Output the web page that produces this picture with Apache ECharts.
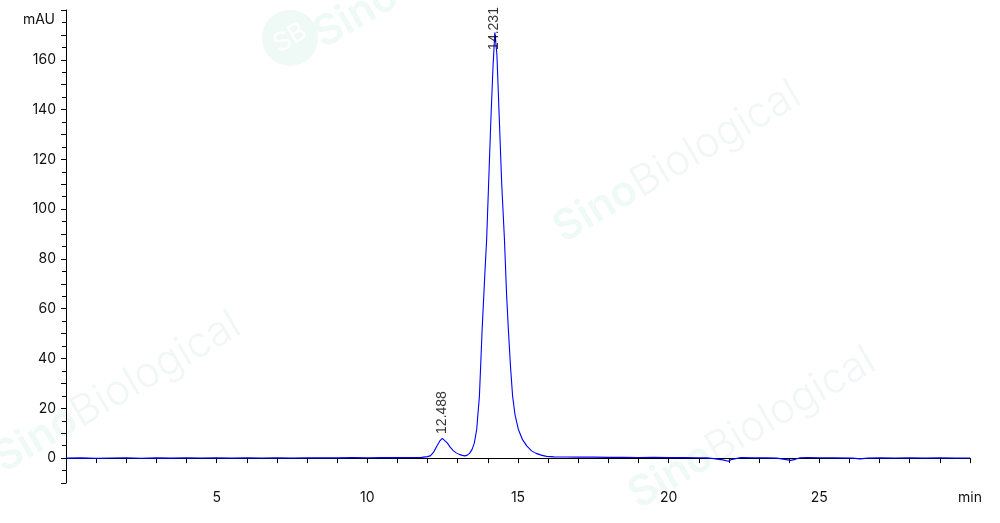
<!DOCTYPE html>
<html>
<head>
<meta charset="utf-8">
<script src="https://cdn.jsdelivr.net/npm/echarts@6/dist/echarts.min.js"></script>
<style>
html,body{margin:0;padding:0;background:#fff;}
#chart{width:1000px;height:523px;}
</style>
</head>
<body>
<div id="chart"></div>
<script>
// Retention time (min)
const times = [0,0.5,1,1.5,2,2.5,3,3.5,4,4.5,5,5.5,6,6.5,7,7.5,8,8.5,9,9.5,10,10.5,11,11.5,11.8,12.0,12.1,12.2,12.3,12.4,12.488,12.55,12.65,12.75,12.85,12.95,13.05,13.15,13.24,13.32,13.40,13.48,13.55,13.63,13.72,13.81,13.90,13.96,14.03,14.10,14.17,14.231,14.30,14.38,14.46,14.55,14.62,14.68,14.75,14.82,14.90,15.01,15.15,15.29,15.45,15.6,15.8,15.95,16.2,16.6,17,17.5,18,18.5,19,19.5,20,20.5,21,21.26,21.5,21.8,21.98,22.1,22.15,22.4,22.8,23.2,23.59,23.8,24.05,24.2,24.36,24.6,25,25.5,26.1,26.35,26.6,27,27.5,28,28.5,29,29.5,30];
// Absorbance (mAU)
const absorbance = [0.0,0.1,-0.1,0.05,0.1,-0.05,0.1,0.0,0.15,0.05,0.1,0.0,0.1,0.05,0.15,0.05,0.1,0.15,0.1,0.2,0.15,0.2,0.2,0.25,0.3,0.6,1.0,2.4,4.7,6.8,7.9,7.6,6.1,4.4,3.0,2.1,1.5,1.1,0.9,1.2,2.0,3.6,6.0,11.6,25,51.7,74,88,112,136,157,171,162,136,110,88,66,51.7,37,25,17.5,11.6,7.4,4.9,2.9,1.9,1.1,0.7,0.5,0.45,0.4,0.4,0.3,0.3,0.25,0.3,0.2,0.25,0.15,0.1,-0.2,-0.7,-1.3,-0.5,0.1,0.2,0.15,0.1,0.0,-0.4,-0.9,-0.5,0.15,0.2,0.15,0.1,0.0,-0.3,0.0,0.1,0.05,0.1,0.05,0.1,0.05,0.05];
// Peak annotations
const peakTimes = [12.488, 14.231];
const peakHeights = [7.9, 171];
const peakLabels = ['12.488', '14.231'];
const peakLabelShift = [-4, 18];

const chart = echarts.init(document.getElementById('chart'), null, {renderer: 'canvas'});

const lineData = times.map((t, i) => [t, absorbance[i]]);
const peakData = peakTimes.map((t, i) => ({
  value: [t, peakHeights[i]],
  label: {position: [0, peakLabelShift[i]]}
}));

const wmText = (x, y, size) => ({
  type: 'text',
  x: x, y: y,
  rotation: 0.53,
  z: -10,
  silent: true,
  style: {
    text: '{a|Sino}{b|Biological}',
    rich: {
      a: {fontFamily: 'Inter', fontSize: size, fontWeight: 600, fill: '#effaf7'},
      b: {fontFamily: 'Inter', fontSize: size, fontWeight: 300, fill: '#f1f7f6'}
    },
    align: 'center',
    verticalAlign: 'middle'
  }
});

const option = {
  animation: false,
  backgroundColor: '#ffffff',
  grid: {left: 66, right: 30, top: 10, bottom: 40, containLabel: false},
  graphic: [
    wmText(677, 162, 42),
    wmText(117, 392, 42),
    wmText(752, 428, 42),
    {
      type: 'circle', z: -10, silent: true,
      shape: {cx: 290, cy: 38, r: 28},
      style: {fill: '#eff9f6'}
    },
    {
      type: 'text', z: -10, silent: true,
      x: 290, y: 38, rotation: 0.53,
      style: {text: 'SB', fontFamily: 'Inter', fontSize: 26, fill: '#ffffff', align: 'center', verticalAlign: 'middle'}
    },
    {
      type: 'text', z: -10, silent: true,
      x: 328, y: 56, rotation: 0.53,
      style: {text: 'Sino', fontFamily: 'Inter', fontSize: 42, fontWeight: 600, fill: '#effaf7', align: 'left', verticalAlign: 'bottom'}
    }
  ],
  xAxis: {
    type: 'value',
    min: 0, max: 30, interval: 1,
    axisLine: {show: true, lineStyle: {color: '#000', width: 1}},
    axisTick: {show: true, length: 5, lineStyle: {color: '#000'}},
    splitLine: {show: false},
    axisLabel: {
      color: '#111', fontFamily: 'Inter', fontSize: 14, margin: 8,
      showMinLabel: true, showMaxLabel: true,
      formatter: v => (v === 30 ? 'min' : (v > 0 && v % 5 === 0 ? String(v) : ''))
    }
  },
  yAxis: {
    type: 'value',
    min: -10, max: 180, interval: 10,
    axisLine: {show: true, lineStyle: {color: '#000', width: 1}},
    axisTick: {show: true, length: 5, lineStyle: {color: '#000'}},
    minorTick: {show: true, splitNumber: 2, length: 4, lineStyle: {color: '#000'}},
    splitLine: {show: false},
    name: 'mAU',
    nameLocation: 'end',
    nameGap: -3,
    nameTextStyle: {color: '#111', fontFamily: 'Inter', fontSize: 14, align: 'right', verticalAlign: 'top', padding: [0, 11, 0, 0]},
    axisLabel: {
      color: '#111', fontFamily: 'Inter', fontSize: 14, margin: 10,
      formatter: v => (v >= 0 && v <= 160 && v % 20 === 0 ? String(v) : '')
    }
  },
  series: [
    {
      type: 'line',
      data: lineData,
      symbol: 'none',
      z: 3,
      lineStyle: {color: '#0000ff', width: 1.1}
    },
    {
      type: 'scatter',
      data: peakData,
      symbolSize: 1,
      itemStyle: {color: 'rgba(0,0,0,0)'},
      z: 4,
      labelLayout: {hideOverlap: false},
      label: {
        show: true,
        formatter: p => peakLabels[p.dataIndex],
        rotate: 90,
        align: 'left',
        verticalAlign: 'middle',
        color: '#000',
        fontFamily: 'Liberation Sans',
        fontSize: 14
      }
    }
  ]
};

chart.setOption(option);
</script>
</body>
</html>
